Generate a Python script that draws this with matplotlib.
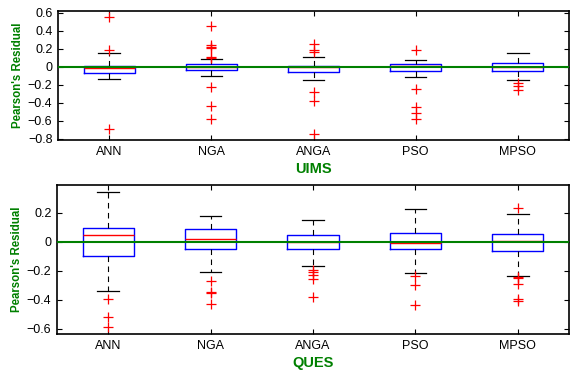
import matplotlib
matplotlib.use("Agg")
import matplotlib.pyplot as plt

plt.rcParams['font.family'] = ['Liberation Sans', 'DejaVu Sans']

categories = ["ANN", "NGA", "ANGA", "PSO", "MPSO"]

# UIMS
uims_q1 = [-0.07, -0.03, -0.06, -0.04, -0.045]
uims_med = [-0.01, 0.0, 0.0, 0.01, 0.0]
uims_q3 = [0.01, 0.03, 0.01, 0.03, 0.045]
uims_lo = [-0.13, -0.095, -0.14, -0.11, -0.15]
uims_hi = [0.15, 0.09, 0.11, 0.08, 0.16]
uims_fliers = [
    [0.56, 0.19, -0.69],
    [0.45, 0.24, 0.22, 0.21, 0.11, 0.10, -0.22, -0.43, -0.58],
    [0.25, 0.19, 0.17, -0.28, -0.38, -0.75],
    [0.19, -0.25, -0.44, -0.51, -0.58],
    [-0.18, -0.21, -0.26],
]

# QUES
ques_q1 = [-0.094, -0.048, -0.048, -0.05, -0.062]
ques_med = [0.048, 0.023, 0.0, -0.01, 0.005]
ques_q3 = [0.099, 0.087, 0.048, 0.06, 0.053]
ques_lo = [-0.34, -0.205, -0.168, -0.216, -0.232]
ques_hi = [0.347, 0.18, 0.152, 0.228, 0.195]
ques_fliers = [
    [-0.395, -0.515, -0.59],
    [-0.267, -0.343, -0.35, -0.43],
    [-0.193, -0.21, -0.228, -0.253, -0.377],
    [-0.237, -0.3, -0.437],
    [0.234, -0.243, -0.25, -0.288, -0.397, -0.405],
]

uims_yticks = [0.6, 0.4, 0.2, 0, -0.2, -0.4, -0.6, -0.8]
ques_yticks = [0.2, 0, -0.2, -0.4, -0.6]

GREEN = (0.0, 0.5, 0.0)

fig = plt.figure(figsize=(5.72, 3.74), dpi=100)
ax1 = fig.add_axes([0.1014, 0.6257, 0.8934, 0.3449])
ax2 = fig.add_axes([0.0997, 0.1070, 0.8951, 0.3983])


def tick_fmt(v):
    if v == 0:
        return "0"
    s = f"{v:.1f}"
    return s.replace("-", "\u2212")


def draw(ax, q1, med, q3, lo, hi, fliers, ylim, yticks, xlabel):
    stats = []
    for i in range(len(categories)):
        stats.append(dict(q1=q1[i], med=med[i], q3=q3[i], whislo=lo[i],
                          whishi=hi[i], fliers=fliers[i], label=categories[i]))
    ax.bxp(stats, positions=range(1, len(categories) + 1), widths=0.5,
           capwidths=0.21,
           boxprops=dict(color='blue', linewidth=1.0),
           medianprops=dict(color='red', linewidth=1.0),
           whiskerprops=dict(color='black', linewidth=0.8, linestyle=(0, (5, 4))),
           capprops=dict(color='black', linewidth=0.9),
           flierprops=dict(marker='+', markeredgecolor='red', markersize=6.5,
                           markeredgewidth=0.9, linestyle='none'))
    ax.axhline(0, color=GREEN, linewidth=1.5, zorder=5)
    ax.set_xlim(0.5, len(categories) + 0.5)
    ax.set_ylim(*ylim)
    ax.set_yticks(yticks)
    ax.set_yticklabels([tick_fmt(v) for v in yticks])
    ax.set_xticks(range(1, len(categories) + 1))
    ax.set_xticklabels(categories)
    ax.tick_params(direction='in', top=True, right=True, length=3.5,
                   labelsize=9, width=0.8, pad=4)
    for s in ax.spines.values():
        s.set_linewidth(1.2)
    ax.set_ylabel("Pearson's Residual", color=GREEN, fontweight='bold',
                  fontsize=8.3, labelpad=3)
    ax.set_xlabel(xlabel, color=GREEN, fontweight='bold', fontsize=10.5,
                  labelpad=3)


draw(ax1, uims_q1, uims_med, uims_q3, uims_lo, uims_hi, uims_fliers,
     (-0.811, 0.622), uims_yticks, "UIMS")
draw(ax2, ques_q1, ques_med, ques_q3, ques_lo, ques_hi, ques_fliers,
     (-0.635, 0.393), ques_yticks, "QUES")

fig.savefig("out.png", dpi=100)
